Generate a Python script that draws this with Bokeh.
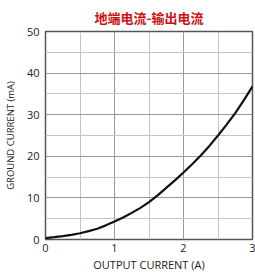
from bokeh.plotting import figure
from bokeh.models import FixedTicker, Range1d
from bokeh.embed import file_html
from bokeh.resources import INLINE

output_current = [0.0, 0.125, 0.25, 0.375, 0.5, 0.625, 0.75, 0.875, 1.0, 1.125, 1.25, 1.375,
                  1.5, 1.625, 1.75, 1.875, 2.0, 2.125, 2.25, 2.375, 2.5, 2.625, 2.75, 2.875, 3.0]
ground_current = [0.35, 0.55, 0.8, 1.1, 1.5, 2.0, 2.6, 3.4, 4.3, 5.3, 6.4, 7.6,
                  9.0, 10.6, 12.4, 14.2, 16.1, 18.1, 20.2, 22.5, 25.0, 27.6, 30.4, 33.5, 36.8]
x_ticks = [0, 1, 2, 3]
x_minor = [0.5, 1.5, 2.5]
y_ticks = [0, 10, 20, 30, 40, 50]
y_minor = [5, 15, 25, 35, 45]

p = figure(frame_width=207, frame_height=208, output_backend="svg", toolbar_location=None,
           x_range=Range1d(0, 3), y_range=Range1d(0, 50),
           min_border_left=0, min_border_right=3, min_border_top=0, min_border_bottom=0)
p.title.text = "地端电流-输出电流"
p.title.text_color = "#cc1111"
p.title.text_font = "Noto Sans CJK SC"
p.title.text_font_size = "13px"
p.title.text_font_style = "bold"
p.title.align = "center"
p.title.standoff = 10

p.outline_line_color = "#555555"
p.outline_line_width = 1.5
p.background_fill_color = "white"
p.border_fill_color = "white"

for ax in (p.xaxis, p.yaxis):
    ax.axis_line_color = None
    ax.major_tick_line_color = None
    ax.minor_tick_line_color = None
    ax.major_tick_out = 0
    ax.minor_tick_out = 0
    ax.major_label_text_font = "Open Sans"
    ax.major_label_text_font_size = "11px"
    ax.major_label_text_color = "#222222"
    ax.axis_label_text_font = "Open Sans"
    ax.axis_label_text_font_style = "normal"
    ax.axis_label_text_color = "#222222"

p.xaxis.axis_label_text_font_size = "11px"
p.yaxis.axis_label_text_font_size = "9.5px"
p.xaxis.ticker = FixedTicker(ticks=x_ticks, minor_ticks=x_minor)
p.yaxis.ticker = FixedTicker(ticks=y_ticks, minor_ticks=y_minor)
p.xaxis.axis_label = "OUTPUT CURRENT (A)"
p.yaxis.axis_label = "GROUND CURRENT (mA)"
p.xaxis.major_label_standoff = 4
p.yaxis.major_label_standoff = 6
p.xaxis.axis_label_standoff = 2
p.yaxis.axis_label_standoff = 7

for g in (p.xgrid, p.ygrid):
    g.grid_line_color = "#999999"
    g.grid_line_width = 1
    g.minor_grid_line_color = "#c4c4c4"
    g.minor_grid_line_width = 1

p.line(output_current, ground_current, line_color="#111111", line_width=2.2)

open("out.html", "w").write(file_html(p, INLINE))
